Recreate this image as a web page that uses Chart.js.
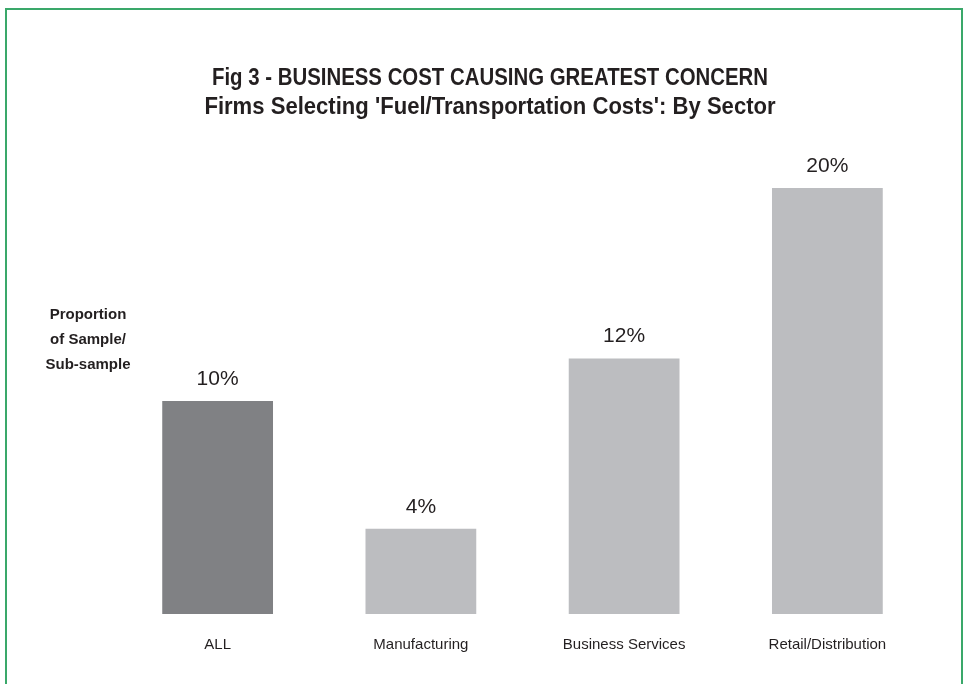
<!DOCTYPE html>
<html>
<head>
<meta charset="utf-8">
<title>Fuel/Transportation Costs by Sector</title>
<script src="https://cdn.jsdelivr.net/npm/chart.js@4/dist/chart.umd.min.js"></script>
<style>
    html, body { margin: 0; padding: 0; background: #fff; }
    #wrap { position: relative; width: 967px; height: 684px; overflow: hidden; }
    #frame {
        position: absolute; left: 5px; top: 8px; width: 958px; height: 700px;
        border: 2px solid #3aa86a; border-bottom: none; box-sizing: border-box;
    }
    #sector-chart { position: absolute; left: 0; top: 0; }
</style>
</head>
<body>
<div id="wrap">
    <div id="frame"></div>
    <canvas id="sector-chart" width="967" height="684"></canvas>
</div>
<script>
const sectors = ['ALL', 'Manufacturing', 'Business Services', 'Retail/Distribution'];
const shareSelecting = [10, 4, 12, 20];
const barColours = ['#808184', '#bcbdc0', '#bcbdc0', '#bcbdc0'];
const titleLines = [
    'Fig 3 - BUSINESS COST CAUSING GREATEST CONCERN',
    "Firms Selecting 'Fuel/Transportation Costs': By Sector"
];
const axisLabelLines = ['Proportion', 'of Sample/', 'Sub-sample'];

const textColour = '#231f20';
const bodyFont = "'Liberation Sans', Arial, sans-serif";

document.addEventListener('DOMContentLoaded', () => {
    const ctx = document.getElementById('sector-chart').getContext('2d');

    // two-line heading, squeezed horizontally to get a condensed face
    const headingSqueeze = [0.85, 0.92];
    const heading = {
        id: 'heading',
        afterDraw: (chart) => {
            const c = chart.ctx;
            c.save();
            c.font = `bold 24px ${bodyFont}`;
            c.fillStyle = textColour;
            c.textAlign = 'center';
            c.textBaseline = 'middle';
            titleLines.forEach((line, i) => {
                c.save();
                c.translate(490, 78 + i * 29);
                c.scale(headingSqueeze[i], 1);
                c.fillText(line, 0, 0);
                c.restore();
            });
            c.restore();
        }
    };

    // percentage above each bar
    const valueLabels = {
        id: 'valueLabels',
        afterDatasetsDraw: (chart) => {
            const c = chart.ctx;
            const meta = chart.getDatasetMeta(0);
            c.save();
            c.font = `21px ${bodyFont}`;
            c.fillStyle = textColour;
            c.textAlign = 'center';
            c.textBaseline = 'middle';
            meta.data.forEach((bar, i) => {
                c.fillText(shareSelecting[i] + '%', bar.x, bar.y - 22);
            });
            c.restore();
        }
    };

    // axis caption on the left
    const axisCaption = {
        id: 'axisCaption',
        afterDraw: (chart) => {
            const c = chart.ctx;
            c.save();
            c.font = `bold 15px ${bodyFont}`;
            c.fillStyle = textColour;
            c.textAlign = 'center';
            c.textBaseline = 'middle';
            axisLabelLines.forEach((line, i) => {
                c.fillText(line, 88, 315 + i * 25);
            });
            c.restore();
        }
    };

    new Chart(ctx, {
        type: 'bar',
        data: {
            labels: sectors,
            datasets: [{
                data: shareSelecting,
                backgroundColor: barColours,
                borderWidth: 0,
                barPercentage: 0.545,
                categoryPercentage: 1
            }]
        },
        options: {
            responsive: false,
            animation: false,
            layout: { padding: { left: 116, right: 38, top: 188, bottom: 16 } },
            plugins: {
                legend: { display: false },
                tooltip: { enabled: false },
                title: { display: false }
            },
            scales: {
                x: {
                    grid: { display: false },
                    border: { display: false },
                    ticks: { color: textColour, font: { family: bodyFont, size: 15 }, padding: 14 }
                },
                y: {
                    display: false,
                    min: 0,
                    max: 20
                }
            }
        },
        plugins: [heading, valueLabels, axisCaption]
    });
});
</script>
</body>
</html>
